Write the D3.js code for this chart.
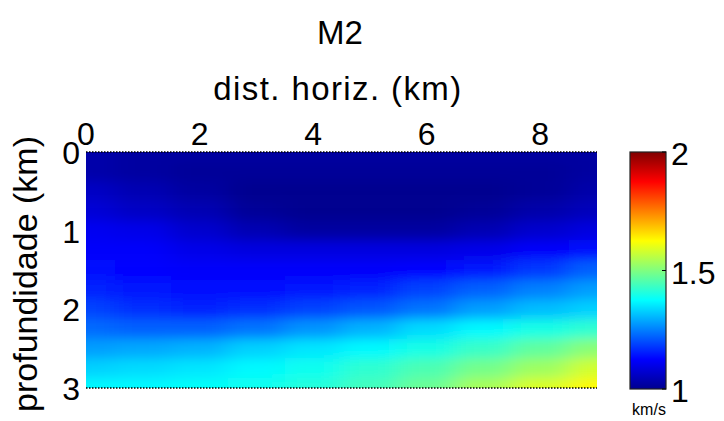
<!DOCTYPE html>
<html>
<head>
<meta charset="utf-8">
<script src="https://cdn.jsdelivr.net/npm/d3@7/dist/d3.min.js"></script>
<style>
  html, body { margin: 0; padding: 0; background: #fff; }
  svg { display: block; }
  text { font-family: "Liberation Sans", Arial, sans-serif; fill: #000; }
</style>
</head>
<body>
<script>
// Model M2: P-wave velocity (km/s) sampled on a regular grid
const distKm = [0, 1, 2, 3, 4, 5, 6, 7, 8, 9];
const depthKm = [0, 0.25, 0.5, 0.75, 1, 1.25, 1.5, 1.75, 2, 2.25, 2.5, 2.75, 3];
const velocity = [
  [1.03, 1.02, 1.02, 1.02, 1.02, 1.02, 1.02, 1.02, 1.02, 1.02],
  [1.03, 1.02, 1.01, 1.01, 1.01, 1.01, 1.01, 1.01, 1.01, 1.02],
  [1.06, 1.04, 1.02, 1.00, 1.00, 1.00, 1.00, 1.00, 1.01, 1.03],
  [1.08, 1.06, 1.04, 1.01, 1.00, 1.00, 1.00, 1.01, 1.03, 1.05],
  [1.11, 1.10, 1.07, 1.04, 1.02, 1.02, 1.02, 1.04, 1.07, 1.09],
  [1.12, 1.12, 1.10, 1.09, 1.09, 1.09, 1.09, 1.10, 1.12, 1.14],
  [1.14, 1.13, 1.12, 1.12, 1.12, 1.12, 1.13, 1.15, 1.18, 1.22],
  [1.16, 1.15, 1.14, 1.14, 1.15, 1.16, 1.19, 1.22, 1.25, 1.28],
  [1.19, 1.17, 1.16, 1.17, 1.19, 1.21, 1.24, 1.28, 1.31, 1.33],
  [1.23, 1.22, 1.22, 1.24, 1.27, 1.30, 1.34, 1.37, 1.40, 1.42],
  [1.28, 1.29, 1.30, 1.33, 1.35, 1.37, 1.40, 1.43, 1.47, 1.51],
  [1.33, 1.34, 1.35, 1.37, 1.39, 1.42, 1.45, 1.49, 1.53, 1.58],
  [1.37, 1.37, 1.38, 1.39, 1.41, 1.44, 1.48, 1.54, 1.59, 1.63]
];
const xTicks = [0, 2, 4, 6, 8];
const yTicks = [0, 1, 2, 3];
const cbarTicks = [1, 1.5, 2];
const titleText = "M2";
const xLabel = "dist. horiz. (km)";
const yLabel = "profundidade (km)";
const unitLabel = "km/s";

const W = 724, H = 421;
const plot = { left: 86, right: 597, top: 152, bottom: 388 };
const cbar = { left: 630, right: 666, top: 152, bottom: 389 };

const svg = d3.select("body").append("svg").attr("width", W).attr("height", H);
const defs = svg.append("defs");

const x = d3.scaleLinear().domain([0, 9]).range([plot.left, plot.right]);
const y = d3.scaleLinear().domain([0, 3]).range([plot.top, plot.bottom]);

// jet colour map over 1 – 2 km/s
const color = d3.scaleLinear()
  .domain([1, 1.125, 1.375, 1.625, 1.875, 2])
  .range(["#00008f", "#0000ff", "#00ffff", "#ffff00", "#ff0000", "#800000"])
  .clamp(true);

// smooth shading of the grid cells
const blur = defs.append("filter").attr("id", "smooth")
  .attr("filterUnits", "userSpaceOnUse")
  .attr("x", plot.left - 80).attr("y", plot.top - 80)
  .attr("width", plot.right - plot.left + 160).attr("height", plot.bottom - plot.top + 160);
blur.append("feGaussianBlur").attr("stdDeviation", "13 6");

defs.append("clipPath").attr("id", "plotClip")
  .append("rect")
  .attr("x", plot.left).attr("y", plot.top)
  .attr("width", plot.right - plot.left).attr("height", plot.bottom - plot.top);

const pad = 50;
const nx = distKm.length, ny = depthKm.length;
const cellX0 = i => i === 0 ? x(distKm[0]) - pad : x((distKm[i - 1] + distKm[i]) / 2);
const cellX1 = i => i === nx - 1 ? x(distKm[nx - 1]) + pad : x((distKm[i] + distKm[i + 1]) / 2);
const cellY0 = j => j === 0 ? y(depthKm[0]) - pad : y((depthKm[j - 1] + depthKm[j]) / 2);
const cellY1 = j => j === ny - 1 ? y(depthKm[ny - 1]) + pad : y((depthKm[j] + depthKm[j + 1]) / 2);

const cells = [];
velocity.forEach((row, j) => row.forEach((v, i) => cells.push({ i, j, v })));

svg.append("g").attr("clip-path", "url(#plotClip)")
  .append("g").attr("filter", "url(#smooth)")
  .selectAll("rect").data(cells).join("rect")
  .attr("x", d => cellX0(d.i))
  .attr("y", d => cellY0(d.j))
  .attr("width", d => cellX1(d.i) - cellX0(d.i) + 0.5)
  .attr("height", d => cellY1(d.j) - cellY0(d.j) + 0.5)
  .attr("fill", d => color(d.v));

// dotted frame lines on top and bottom
[plot.top, plot.bottom].forEach(yy => {
  svg.append("line")
    .attr("x1", plot.left).attr("x2", plot.right)
    .attr("y1", yy).attr("y2", yy)
    .attr("stroke", "#000").attr("stroke-width", 1.4)
    .attr("stroke-dasharray", "1.5,1.5");
});

// x axis along the top
svg.append("g").selectAll("text").data(xTicks).join("text")
  .attr("x", d => x(d)).attr("y", 145)
  .attr("text-anchor", "middle").attr("font-size", 32)
  .text(d => d);

// y axis (depth)
svg.append("g").selectAll("text").data(yTicks).join("text")
  .attr("x", 80).attr("y", d => y(d) + 12)
  .attr("text-anchor", "end").attr("font-size", 32)
  .text(d => d);

svg.append("text").attr("x", 340).attr("y", 44)
  .attr("text-anchor", "middle").attr("font-size", 33).text(titleText);

svg.append("text").attr("x", 338).attr("y", 100)
  .attr("text-anchor", "middle").attr("font-size", 33)
  .attr("letter-spacing", 1.4).text(xLabel);

svg.append("text")
  .attr("transform", `translate(37,${274}) rotate(-90)`)
  .attr("text-anchor", "middle").attr("font-size", 34).text(yLabel);

// colour bar
const cy = d3.scaleLinear().domain([1, 2]).range([cbar.bottom, cbar.top]);
const grad = defs.append("linearGradient").attr("id", "jetGrad")
  .attr("x1", 0).attr("y1", 1).attr("x2", 0).attr("y2", 0);
grad.selectAll("stop").data(color.domain()).join("stop")
  .attr("offset", d => (d - 1))
  .attr("stop-color", d => color(d));

svg.append("rect")
  .attr("x", cbar.left).attr("y", cbar.top)
  .attr("width", cbar.right - cbar.left).attr("height", cbar.bottom - cbar.top)
  .attr("fill", "url(#jetGrad)")
  .attr("stroke", "#222").attr("stroke-width", 1.2);

svg.append("g").selectAll("line").data(cbarTicks).join("line")
  .attr("x1", cbar.right - 4).attr("x2", cbar.right)
  .attr("y1", d => cy(d)).attr("y2", d => cy(d))
  .attr("stroke", "#000").attr("stroke-width", 1);

svg.append("g").selectAll("text").data(cbarTicks).join("text")
  .attr("x", 671).attr("y", d => cy(d) + 13)
  .attr("font-size", 32)
  .text(d => d);

svg.append("text").attr("x", 649).attr("y", 415)
  .attr("text-anchor", "middle").attr("font-size", 16).text(unitLabel);
</script>
</body>
</html>
